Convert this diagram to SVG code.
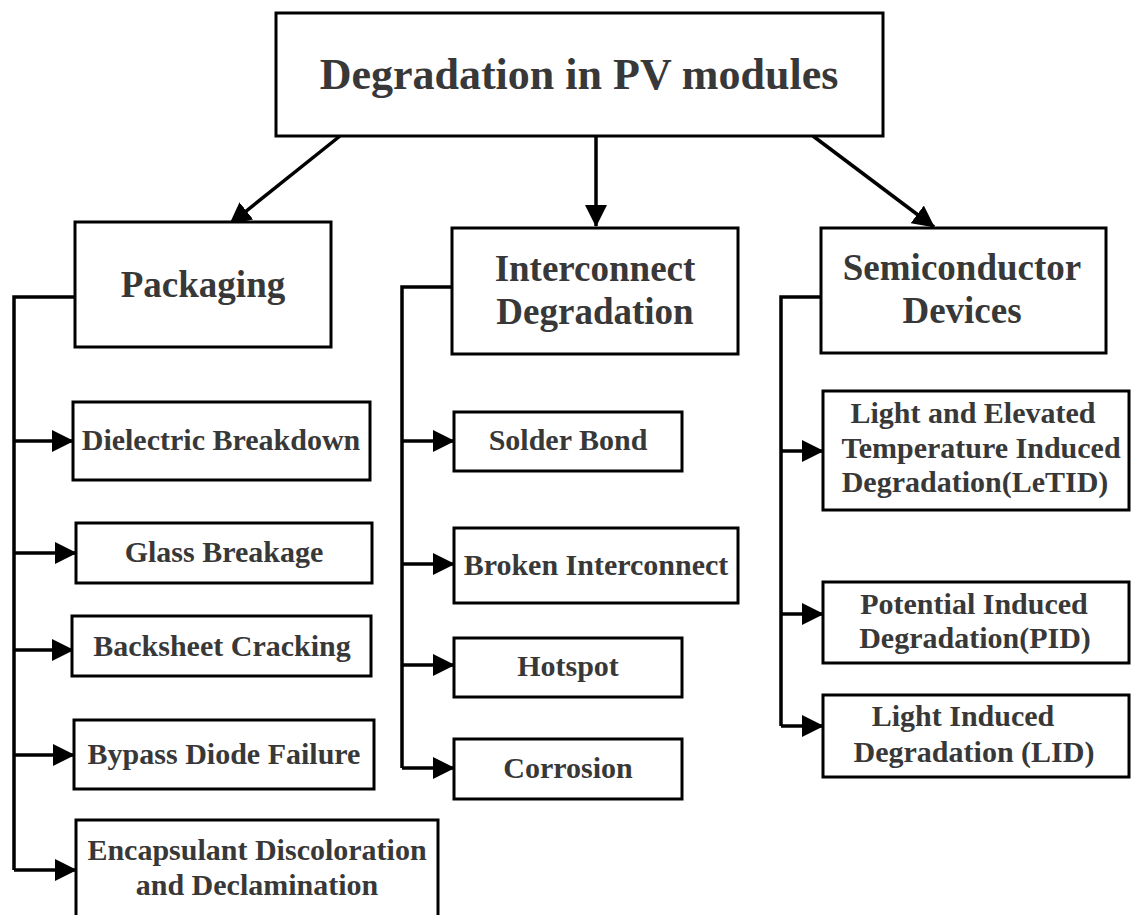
<svg xmlns="http://www.w3.org/2000/svg" width="1132" height="915" viewBox="0 0 1132 915">
  <style>
    .box { fill: #ffffff; stroke: #000000; stroke-width: 3; }
    .lbl { font-family: "Liberation Serif", "Times New Roman", serif; font-weight: bold; fill: #383838; text-anchor: middle; }
    .t1 { font-size: 44px; }
    .t2 { font-size: 37px; }
    .t3 { font-size: 30px; }
    .wire { fill: none; stroke: #000000; stroke-width: 3.5; }
  </style>
  <defs>
    <marker id="head" markerUnits="userSpaceOnUse" markerWidth="22" markerHeight="22" refX="21" refY="11" orient="auto">
      <path d="M0,0 L22,11 L0,22 z" fill="#000000"/>
    </marker>
  </defs>
  <rect width="1132" height="915" fill="#ffffff"/>

  <!-- connectors -->
  <g id="connectors">
    <line class="wire" x1="340" y1="136" x2="230" y2="224" marker-end="url(#head)"/>
    <line class="wire" x1="596" y1="136" x2="596" y2="226" marker-end="url(#head)"/>
    <line class="wire" x1="813" y1="136" x2="934" y2="227" marker-end="url(#head)"/>

    <!-- packaging branch -->
    <polyline class="wire" points="75,297 14,297 14,870"/>
    <line class="wire" x1="14" y1="441" x2="73" y2="441" marker-end="url(#head)"/>
    <line class="wire" x1="14" y1="553" x2="76" y2="553" marker-end="url(#head)"/>
    <line class="wire" x1="14" y1="650" x2="73" y2="650" marker-end="url(#head)"/>
    <line class="wire" x1="14" y1="755" x2="74" y2="755" marker-end="url(#head)"/>
    <line class="wire" x1="14" y1="870" x2="76" y2="870" marker-end="url(#head)"/>

    <!-- interconnect branch -->
    <polyline class="wire" points="452,287 402,287 402,768"/>
    <line class="wire" x1="402" y1="441" x2="454" y2="441" marker-end="url(#head)"/>
    <line class="wire" x1="402" y1="564" x2="454" y2="564" marker-end="url(#head)"/>
    <line class="wire" x1="402" y1="665" x2="454" y2="665" marker-end="url(#head)"/>
    <line class="wire" x1="402" y1="768" x2="454" y2="768" marker-end="url(#head)"/>

    <!-- semiconductor branch -->
    <polyline class="wire" points="821,297 781,297 781,726"/>
    <line class="wire" x1="781" y1="451" x2="823" y2="451" marker-end="url(#head)"/>
    <line class="wire" x1="781" y1="614" x2="823" y2="614" marker-end="url(#head)"/>
    <line class="wire" x1="781" y1="726" x2="823" y2="726" marker-end="url(#head)"/>
  </g>

  <!-- root -->
  <g id="root">
    <rect class="box" x="276" y="13" width="607" height="123"/>
    <text class="lbl t1" x="579" y="89">Degradation in PV modules</text>
  </g>

  <!-- categories -->
  <g id="packaging">
    <rect class="box" x="75" y="222" width="256" height="125"/>
    <text class="lbl t2" x="203" y="297">Packaging</text>
  </g>
  <g id="interconnect">
    <rect class="box" x="452" y="228" width="286" height="126"/>
    <text class="lbl t2" x="595" y="281">Interconnect</text>
    <text class="lbl t2" x="595" y="324">Degradation</text>
  </g>
  <g id="semiconductor">
    <rect class="box" x="821" y="228" width="285" height="125"/>
    <text class="lbl t2" x="962" y="280">Semiconductor</text>
    <text class="lbl t2" x="962" y="323">Devices</text>
  </g>

  <!-- packaging leaves -->
  <g id="dielectric">
    <rect class="box" x="73" y="402" width="297" height="78"/>
    <text class="lbl t3" x="221" y="450">Dielectric Breakdown</text>
  </g>
  <g id="glass">
    <rect class="box" x="76" y="523" width="296" height="60"/>
    <text class="lbl t3" x="224" y="562">Glass Breakage</text>
  </g>
  <g id="backsheet">
    <rect class="box" x="72" y="616" width="299" height="60"/>
    <text class="lbl t3" x="222" y="656">Backsheet Cracking</text>
  </g>
  <g id="bypass">
    <rect class="box" x="74" y="720" width="300" height="69"/>
    <text class="lbl t3" x="224" y="764">Bypass Diode Failure</text>
  </g>
  <g id="encapsulant">
    <rect class="box" x="76" y="820" width="362" height="110"/>
    <text class="lbl t3" x="257" y="860">Encapsulant Discoloration</text>
    <text class="lbl t3" x="257" y="895">and Declamination</text>
  </g>

  <!-- interconnect leaves -->
  <g id="solder">
    <rect class="box" x="454" y="412" width="228" height="59"/>
    <text class="lbl t3" x="568" y="450">Solder Bond</text>
  </g>
  <g id="broken">
    <rect class="box" x="454" y="528" width="284" height="75"/>
    <text class="lbl t3" x="596" y="575">Broken Interconnect</text>
  </g>
  <g id="hotspot">
    <rect class="box" x="454" y="638" width="228" height="59"/>
    <text class="lbl t3" x="568" y="676">Hotspot</text>
  </g>
  <g id="corrosion">
    <rect class="box" x="454" y="739" width="228" height="60"/>
    <text class="lbl t3" x="568" y="778">Corrosion</text>
  </g>

  <!-- semiconductor leaves -->
  <g id="letid">
    <rect class="box" x="823" y="391" width="306" height="119"/>
    <text class="lbl t3" x="973" y="423">Light and Elevated</text>
    <text class="lbl t3" x="981" y="458">Temperature Induced</text>
    <text class="lbl t3" x="975" y="492">Degradation(LeTID)</text>
  </g>
  <g id="pid">
    <rect class="box" x="823" y="582" width="306" height="81"/>
    <text class="lbl t3" x="974" y="614">Potential Induced</text>
    <text class="lbl t3" x="975" y="648">Degradation(PID)</text>
  </g>
  <g id="lid">
    <rect class="box" x="823" y="695" width="306" height="82"/>
    <text class="lbl t3" x="963" y="726">Light Induced</text>
    <text class="lbl t3" x="974" y="762">Degradation (LID)</text>
  </g>
</svg>
